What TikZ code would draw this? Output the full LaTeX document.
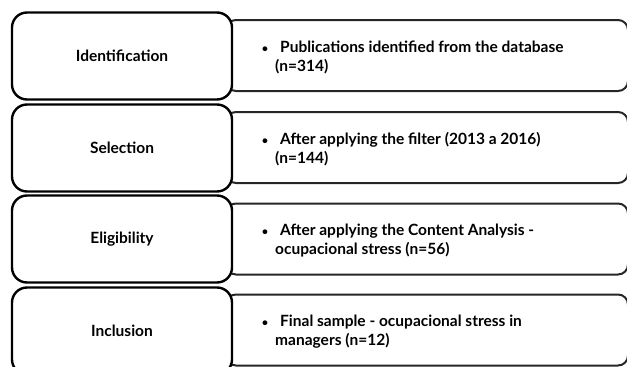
\documentclass[tikz,border=0pt]{standalone}
\usepackage{fontspec}
\setmainfont{Lato}
\newcommand{\smallbul}{\llap{{\fontsize{11}{11}\selectfont •}\hspace{7pt}}\hspace*{5pt}}
\begin{document}
\begin{tikzpicture}[x=1pt,y=-1pt,
  stagebox/.style={draw=black, line width=2.4pt, rounded corners=15pt, fill=white,
    minimum width=220pt, minimum height=87pt, inner sep=0pt,
    font=\bfseries\fontsize{15.5}{18}\selectfont},
  infobox/.style={draw=black!85, line width=2pt, rounded corners=10pt, fill=white,
    minimum width=402pt, minimum height=71pt, inner sep=0pt},
  infotext/.style={anchor=west, align=left, inner sep=0pt,
    font=\bfseries\fontsize{15.5}{19}\selectfont}
]
\useasboundingbox (0,0) rectangle (627,367);
\clip (0,0) rectangle (627,367);

% right boxes
\node[infobox] (r1) at (427,55.5) {};
\node[infobox] (r2) at (427,147.5) {};
\node[infobox] (r3) at (427,239) {};
\node[infobox] (r4) at (427,330) {};

% left boxes
\node[stagebox] (l1) at (122,56) {Identification};
\node[stagebox] (l2) at (122,148) {Selection};
\node[stagebox] (l3) at (122,239) {Eligibility};
\node[stagebox] (l4) at (122,331) {Inclusion};

% texts
\node[infotext] (t1) at (275,57) {\smallbul Publications identified from the database\\(n=314)};
\node[infotext] (t2) at (275,149) {\smallbul After applying the filter (2013 a 2016)\\(n=144)};
\node[infotext] (t3) at (275,241) {\smallbul After applying the Content Analysis -\\ocupacional stress (n=56)};
\node[infotext] (t4) at (275,332) {\smallbul Final sample - ocupacional stress in\\managers (n=12)};
\end{tikzpicture}
\end{document}
